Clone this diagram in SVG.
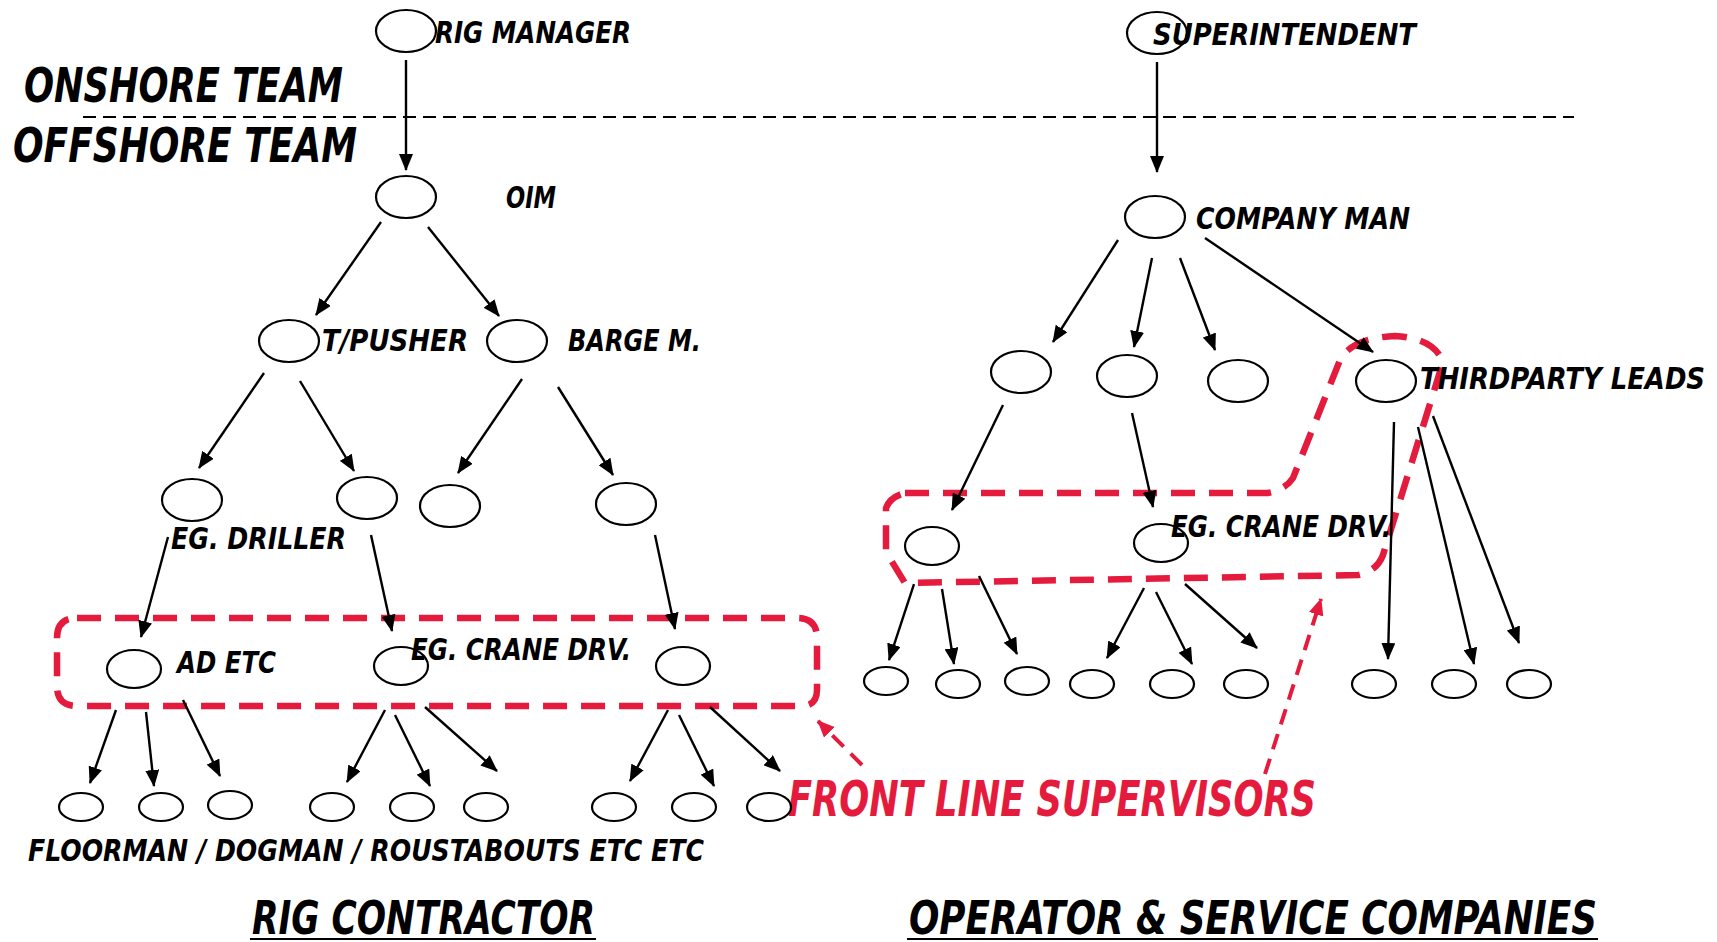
<svg xmlns="http://www.w3.org/2000/svg" width="1717" height="942" viewBox="0 0 1717 942">
<defs>
<style>
.n{fill:#fff;stroke:#000;stroke-width:2.2}
.c{stroke:#000;stroke-width:2.4;fill:none;marker-end:url(#ah)}
.t{font-family:"Liberation Sans Narrow","DejaVu Sans Condensed","Liberation Sans",sans-serif;font-style:italic;font-weight:bold;fill:#000}
.lbl{font-size:31px}
.big{font-size:48px}
.red{fill:#e41b3c}
.rbox{fill:none;stroke:#e41b3c;stroke-width:6.5;stroke-dasharray:24 14}
.rarr{fill:none;stroke:#e41b3c;stroke-width:4;stroke-dasharray:16 10;marker-end:url(#rah)}
</style>
<marker id="ah" markerUnits="userSpaceOnUse" viewBox="0 0 17 14" refX="16" refY="7" markerWidth="17" markerHeight="14" orient="auto">
<path d="M0,0 L17,7 L0,14 z" fill="#000"/>
</marker>
<marker id="rah" markerUnits="userSpaceOnUse" viewBox="0 0 17 15" refX="16" refY="7.5" markerWidth="17" markerHeight="15" orient="auto">
<path d="M0,0 L17,7.5 L0,15 z" fill="#e41b3c"/>
</marker>
</defs>
<rect width="1717" height="942" fill="#fff"/>

<line x1="83" y1="117" x2="1574" y2="117" stroke="#000" stroke-width="2.2" stroke-dasharray="13 7"/>
<text class="t big" x="24" y="102" textLength="319" lengthAdjust="spacingAndGlyphs">ONSHORE TEAM</text>
<text class="t big" x="13" y="162" textLength="344" lengthAdjust="spacingAndGlyphs">OFFSHORE TEAM</text>

<g id="frontline">
<path class="rbox" d="M77,618 L797,618 Q817,618 817,638 L817,690 Q817,706 801,706 L77,706 Q57,706 57,686 L57,638 Q57,618 77,618 Z"/>
<path class="rbox" d="M905,493 L1268,493 Q1285,490 1293,478 L1340,360 Q1352,338 1395,336 Q1434,338 1443,362 L1383,555 Q1377,571 1358,575 L905,583 L886,552 L886,508 Q890,497 905,493 Z"/>
<text class="t red" x="788" y="816" font-size="50" textLength="528" lengthAdjust="spacingAndGlyphs">FRONT LINE SUPERVISORS</text>
</g>

<g id="connectors">
<line class="c" x1="406" y1="60" x2="406" y2="170"/>
<line class="c" x1="381" y1="222" x2="316" y2="315"/>
<line class="c" x1="428" y1="227" x2="499" y2="316"/>
<line class="c" x1="264" y1="373" x2="199" y2="468"/>
<line class="c" x1="300" y1="381" x2="354" y2="471"/>
<line class="c" x1="522" y1="379" x2="458" y2="473"/>
<line class="c" x1="558" y1="387" x2="613" y2="475"/>
<line class="c" x1="168" y1="537" x2="141" y2="637"/>
<line class="c" x1="371" y1="535" x2="392" y2="631"/>
<line class="c" x1="655" y1="535" x2="675" y2="629"/>
<line class="c" x1="116" y1="710" x2="90" y2="783"/>
<line class="c" x1="146" y1="712" x2="154" y2="786"/>
<line class="c" x1="183" y1="700" x2="220" y2="776"/>
<line class="c" x1="385" y1="710" x2="347" y2="782"/>
<line class="c" x1="395" y1="715" x2="430" y2="786"/>
<line class="c" x1="425" y1="707" x2="497" y2="771"/>
<line class="c" x1="668" y1="710" x2="630" y2="781"/>
<line class="c" x1="679" y1="715" x2="714" y2="786"/>
<line class="c" x1="710" y1="707" x2="780" y2="771"/>
<line class="c" x1="1157" y1="62" x2="1157" y2="172"/>
<line class="c" x1="1118" y1="240" x2="1053" y2="342"/>
<line class="c" x1="1152" y1="258" x2="1134" y2="347"/>
<line class="c" x1="1180" y1="258" x2="1215" y2="350"/>
<line class="c" x1="1205" y1="238" x2="1373" y2="352"/>
<line class="c" x1="1003" y1="405" x2="952" y2="510"/>
<line class="c" x1="1132" y1="413" x2="1153" y2="507"/>
<line class="c" x1="1394" y1="422" x2="1388" y2="659"/>
<line class="c" x1="1418" y1="427" x2="1474" y2="664"/>
<line class="c" x1="1433" y1="416" x2="1519" y2="643"/>
<line class="c" x1="914" y1="584" x2="889" y2="660"/>
<line class="c" x1="942" y1="589" x2="954" y2="664"/>
<line class="c" x1="979" y1="576" x2="1017" y2="654"/>
<line class="c" x1="1144" y1="588" x2="1107" y2="658"/>
<line class="c" x1="1156" y1="592" x2="1192" y2="664"/>
<line class="c" x1="1185" y1="584" x2="1257" y2="648"/>
<line class="rarr" x1="862" y1="765" x2="818" y2="721"/>
<line class="rarr" x1="1265" y1="774" x2="1321" y2="599"/>
</g>

<g id="rig-manager"><ellipse class="n" cx="406" cy="31" rx="30" ry="21"/><text class="t lbl" x="435" y="43" font-size="32" textLength="196" lengthAdjust="spacingAndGlyphs">RIG MANAGER</text></g>
<g id="oim"><ellipse class="n" cx="406" cy="197" rx="30" ry="21"/><text class="t lbl" x="506" y="208" textLength="50" lengthAdjust="spacingAndGlyphs">OIM</text></g>
<g id="tpusher"><ellipse class="n" cx="289" cy="341" rx="30" ry="21"/><text class="t lbl" x="322" y="351" textLength="146" lengthAdjust="spacingAndGlyphs">T/PUSHER</text></g>
<g id="barge"><ellipse class="n" cx="517" cy="341" rx="30" ry="21"/><text class="t lbl" x="568" y="351" textLength="133" lengthAdjust="spacingAndGlyphs">BARGE M.</text></g>
<g id="driller"><ellipse class="n" cx="192" cy="500" rx="30" ry="21"/><text class="t lbl" x="171" y="549" textLength="175" lengthAdjust="spacingAndGlyphs">EG. DRILLER</text></g>
<g id="tp-2"><ellipse class="n" cx="367" cy="498" rx="30" ry="21"/></g>
<g id="bm-1"><ellipse class="n" cx="450" cy="506" rx="30" ry="21"/></g>
<g id="bm-2"><ellipse class="n" cx="626" cy="504" rx="30" ry="21"/></g>
<g id="ad"><ellipse class="n" cx="134" cy="669" rx="27" ry="19"/><text class="t lbl" x="177" y="673" textLength="99" lengthAdjust="spacingAndGlyphs">AD ETC</text></g>
<g id="crane-l"><ellipse class="n" cx="401" cy="666" rx="27" ry="19"/><text class="t lbl" x="411" y="660" textLength="220" lengthAdjust="spacingAndGlyphs">EG. CRANE DRV.</text></g>
<g id="sup-r"><ellipse class="n" cx="683" cy="666" rx="27" ry="19"/></g>
<g id="workers-l">
<ellipse class="n" cx="81" cy="807" rx="22" ry="14"/>
<ellipse class="n" cx="161" cy="807" rx="22" ry="14"/>
<ellipse class="n" cx="230" cy="805" rx="22" ry="14"/>
<ellipse class="n" cx="332" cy="807" rx="22" ry="14"/>
<ellipse class="n" cx="412" cy="807" rx="22" ry="14"/>
<ellipse class="n" cx="486" cy="807" rx="22" ry="14"/>
<ellipse class="n" cx="614" cy="807" rx="22" ry="14"/>
<ellipse class="n" cx="694" cy="807" rx="22" ry="14"/>
<ellipse class="n" cx="769" cy="807" rx="22" ry="14"/>
<text class="t lbl" x="28" y="861" textLength="676" lengthAdjust="spacingAndGlyphs">FLOORMAN / DOGMAN / ROUSTABOUTS ETC ETC</text>
</g>
<g id="superintendent"><ellipse class="n" cx="1157" cy="33" rx="30" ry="21"/><text class="t lbl" x="1153" y="45" font-size="32" textLength="263" lengthAdjust="spacingAndGlyphs">SUPERINTENDENT</text></g>
<g id="company-man"><ellipse class="n" cx="1155" cy="217" rx="30" ry="21"/><text class="t lbl" x="1196" y="229" textLength="214" lengthAdjust="spacingAndGlyphs">COMPANY MAN</text></g>
<g id="cm-1"><ellipse class="n" cx="1021" cy="372" rx="30" ry="21"/></g>
<g id="cm-2"><ellipse class="n" cx="1127" cy="376" rx="30" ry="21"/></g>
<g id="cm-3"><ellipse class="n" cx="1238" cy="381" rx="30" ry="21"/></g>
<g id="thirdparty"><ellipse class="n" cx="1386" cy="381" rx="30" ry="21"/><text class="t lbl" x="1420" y="389" textLength="285" lengthAdjust="spacingAndGlyphs">THIRDPARTY LEADS</text></g>
<g id="op-sup-1"><ellipse class="n" cx="932" cy="546" rx="27" ry="19"/></g>
<g id="crane-r"><ellipse class="n" cx="1161" cy="543" rx="27" ry="19"/><text class="t lbl" x="1171" y="537" textLength="220" lengthAdjust="spacingAndGlyphs">EG. CRANE DRV.</text></g>
<g id="workers-r">
<ellipse class="n" cx="886" cy="681" rx="22" ry="14"/>
<ellipse class="n" cx="958" cy="684" rx="22" ry="14"/>
<ellipse class="n" cx="1027" cy="681" rx="22" ry="14"/>
<ellipse class="n" cx="1092" cy="684" rx="22" ry="14"/>
<ellipse class="n" cx="1172" cy="684" rx="22" ry="14"/>
<ellipse class="n" cx="1246" cy="684" rx="22" ry="14"/>
<ellipse class="n" cx="1374" cy="684" rx="22" ry="14"/>
<ellipse class="n" cx="1454" cy="684" rx="22" ry="14"/>
<ellipse class="n" cx="1529" cy="684" rx="22" ry="14"/>
</g>
<g id="footers">
<text class="t" x="252" y="934" font-size="46" textLength="343" lengthAdjust="spacingAndGlyphs">RIG CONTRACTOR</text>
<line x1="250" y1="939" x2="596" y2="939" stroke="#000" stroke-width="2"/>
<text class="t" x="909" y="934" font-size="46" textLength="688" lengthAdjust="spacingAndGlyphs">OPERATOR &amp; SERVICE COMPANIES</text>
<line x1="907" y1="939" x2="1598" y2="939" stroke="#000" stroke-width="2"/>
</g>
</svg>
